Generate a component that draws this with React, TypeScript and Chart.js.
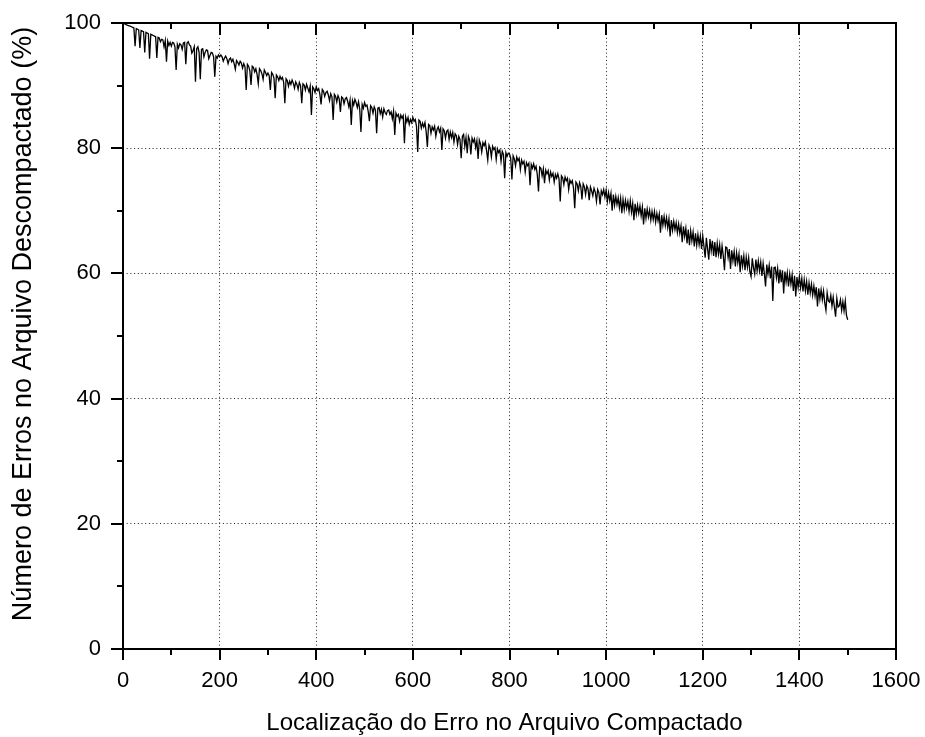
import React, { useEffect, useRef } from "react";
import { Chart, registerables } from "chart.js";

Chart.register(...registerables);

// Step (in file position units) between consecutive samples
const X_STEP = 2.5;

// Percentage of errors in the decompressed file, one value per X_STEP, from 0 to 1500
const errorPct: number[] = [
  100, 99.9, 99.8, 99.7, 99.6, 99.55, 99.5, 99.4, 99.3, 99.2, 96.3, 99.1, 99.0, 98.9, 96.0, 98.8, 98.7, 98.6, 95.3, 98.5,
  98.4, 98.3, 94.3, 98.2, 98.1, 98.0, 97.9, 97.8, 94.4, 97.7, 97.6, 97.0, 97.4, 97.3, 96.2, 97.2, 93.8, 97.1, 96.4, 96.9,
  96.3, 96.9, 96.8, 96.2, 92.5, 96.6, 96.0, 96.7, 96.5, 95.8, 96.8, 96.9, 93.4, 96.8, 97.0, 96.5, 96.3, 95.2, 95.6, 96.2,
  90.6, 95.9, 96.2, 95.3, 91.0, 95.8, 95.9, 94.6, 95.3, 95.7, 95.6, 94.3, 94.8, 95.3, 95.2, 94.6, 91.4, 94.7, 94.4, 94.9,
  94.6, 94.9, 94.6, 93.9, 94.4, 94.7, 94.3, 93.5, 94.2, 94.4, 93.8, 94.2, 93.5, 92.6, 94.0, 93.7, 93.3, 93.9, 93.6, 92.8,
  93.5, 93.0, 89.3, 93.4, 93.1, 92.4, 90.1, 93.1, 92.9, 92.2, 92.7, 91.8, 90.3, 92.7, 92.4, 91.9, 91.0, 92.5, 92.1, 91.6,
  92.0, 91.6, 89.3, 92.1, 91.8, 91.2, 88.0, 91.7, 91.4, 90.8, 91.5, 91.0, 91.3, 90.5, 87.2, 91.1, 90.8, 89.9, 90.7, 90.2,
  90.9, 90.4, 89.6, 90.6, 90.2, 89.4, 90.5, 90.0, 87.2, 90.3, 90.1, 89.3, 90.2, 89.6, 89.0, 89.9, 85.3, 89.8, 89.5, 88.9,
  89.8, 89.2, 89.5, 88.6, 87.0, 89.4, 89.1, 88.3, 88.9, 89.1, 88.5, 87.6, 88.7, 88.2, 84.5, 88.6, 88.3, 87.4, 88.4, 87.9,
  85.8, 88.2, 88.0, 87.1, 87.9, 88.1, 87.5, 86.6, 87.7, 83.7, 87.6, 86.9, 87.8, 87.3, 86.5, 87.4, 86.2, 82.6, 87.0, 86.4,
  87.3, 86.7, 86.9, 85.9, 84.3, 86.8, 86.5, 85.6, 86.6, 86.1, 82.4, 86.4, 86.5, 85.5, 86.2, 85.0, 86.3, 85.7, 85.4, 86.0,
  86.1, 85.4, 85.8, 84.7, 85.9, 82.1, 85.6, 85.1, 85.4, 84.3, 85.3, 84.8, 85.2, 80.8, 85.0, 84.2, 84.9, 83.8, 84.6, 84.1,
  84.9, 84.3, 84.6, 83.5, 79.4, 84.5, 84.3, 83.2, 84.0, 83.4, 84.1, 82.6, 80.2, 83.8, 83.6, 82.4, 83.4, 82.9, 83.5, 81.9,
  83.0, 83.4, 82.6, 83.2, 79.7, 83.1, 82.8, 81.6, 82.7, 82.9, 81.4, 82.6, 81.7, 82.5, 81.0, 82.3, 82.0, 80.6, 81.9, 81.4,
  78.4, 81.9, 82.2, 80.3, 81.7, 79.2, 81.9, 81.3, 79.0, 81.6, 81.0, 81.5, 80.1, 81.2, 78.3, 81.3, 80.7, 79.4, 80.9, 80.4,
  81.0, 79.6, 78.1, 80.5, 80.0, 78.6, 80.3, 79.8, 80.1, 78.2, 79.9, 79.3, 79.7, 77.9, 79.5, 79.0, 75.2, 79.3, 78.7, 79.2,
  79.1, 78.4, 75.0, 78.8, 78.3, 77.2, 78.6, 78.0, 78.4, 76.6, 78.1, 77.5, 77.9, 76.2, 77.7, 77.2, 77.6, 74.1, 77.4, 76.8,
  77.5, 76.6, 77.1, 75.8, 73.1, 77.0, 76.8, 75.6, 76.7, 74.4, 76.5, 75.9, 76.4, 74.9, 76.2, 75.5, 76.0, 74.6, 75.8, 75.2,
  75.9, 75.1, 71.5, 75.6, 75.3, 74.2, 75.4, 74.8, 75.2, 73.4, 74.9, 74.4, 74.8, 73.6, 70.4, 74.6, 74.3, 73.2, 74.5, 73.9,
  71.8, 74.3, 73.8, 72.6, 74.0, 73.5, 71.7, 73.8, 73.2, 72.4, 73.6, 73.0, 71.5, 73.4, 72.9, 71.0, 73.2, 72.6, 73.4, 72.2,
  73.3, 71.5, 72.9, 71.6, 72.8, 70.0, 72.6, 70.9, 72.3, 71.0, 72.1, 70.5, 72.0, 69.6, 71.8, 70.2, 71.7, 70.4, 71.5, 69.9,
  71.6, 69.8, 71.2, 68.5, 71.1, 69.5, 70.9, 69.6, 70.8, 69.2, 70.6, 67.8, 70.4, 68.8, 70.3, 69.0, 70.1, 68.5, 69.9, 68.6,
  69.9, 68.2, 69.6, 68.4, 69.5, 66.5, 69.3, 67.7, 69.1, 67.6, 68.9, 67.3, 68.7, 65.9, 68.5, 66.9, 68.3, 67.0, 68.1, 66.5,
  67.9, 66.4, 67.6, 65.0, 67.5, 65.9, 67.2, 64.8, 67.0, 64.5, 66.8, 65.2, 66.6, 64.3, 66.4, 64.5, 66.2, 64.6, 66.0, 63.9,
  66.0, 64.3, 62.5, 65.7, 63.9, 62.2, 65.5, 63.6, 65.2, 62.8, 65.0, 62.6, 64.8, 63.1, 64.6, 62.3, 64.4, 62.8, 60.5, 64.2,
  64.1, 62.5, 63.9, 60.7, 63.7, 62.0, 63.5, 61.1, 63.3, 61.7, 63.1, 60.2, 62.9, 61.2, 62.8, 60.5, 62.6, 61.0, 62.5, 60.3,
  59.5, 62.4, 60.9, 59.9, 62.2, 60.4, 62.0, 60.4, 61.8, 59.6, 61.6, 60.0, 57.9, 61.4, 59.9, 61.3, 59.2, 61.1, 55.6, 60.9,
  61.0, 59.3, 60.8, 58.4, 60.6, 58.6, 60.5, 56.8, 60.3, 58.6, 60.1, 57.9, 59.9, 58.3, 59.8, 57.2, 59.6, 56.3, 59.4, 57.8,
  59.5, 57.7, 59.2, 57.1, 59.0, 57.2, 58.7, 56.6, 58.5, 56.9, 58.3, 56.5, 58.0, 56.4, 57.8, 54.7, 57.6, 55.9, 57.4, 55.8,
  57.2, 55.3, 54.1, 56.9, 55.6, 55.4, 56.5, 54.8, 56.2, 54.6, 53.1, 56.0, 54.6, 54.8, 55.8, 54.1, 55.5, 54.0, 55.6, 53.3,
  52.6,
];

const xMajorTicks = [0, 200, 400, 600, 800, 1000, 1200, 1400, 1600];
const xMinorTicks = [100, 300, 500, 700, 900, 1100, 1300, 1500];
const yMajorTicks = [0, 20, 40, 60, 80, 100];
const yMinorTicks = [10, 30, 50, 70, 90];

const xTitle = "Localização do Erro no Arquivo Compactado";
const yTitle = "Número de Erros no Arquivo Descompactado (%)";

const FONT = "'Liberation Sans', Arial, Helvetica, sans-serif";

const framePlugin = {
  id: "originFrame",
  afterDraw(chart: any) {
    const { ctx, chartArea, scales } = chart;
    const { left, right, top, bottom } = chartArea;
    const xs = scales.x;
    const ys = scales.y;
    ctx.save();
    ctx.strokeStyle = "#000";
    ctx.lineWidth = 2;
    ctx.setLineDash([]);
    const seg = (x1: number, y1: number, x2: number, y2: number) => {
      ctx.beginPath();
      ctx.moveTo(x1, y1);
      ctx.lineTo(x2, y2);
      ctx.stroke();
    };
    // frame
    ctx.strokeRect(left, top, right - left, bottom - top);
    // x ticks: bottom outward, top inward
    xMajorTicks.forEach((v) => {
      const p = Math.round(xs.getPixelForValue(v));
      seg(p, bottom, p, bottom + 11);
      if (v > 0 && v < 1600) seg(p, top, p, top + 12);
    });
    xMinorTicks.forEach((v) => {
      const p = Math.round(xs.getPixelForValue(v));
      seg(p, bottom, p, bottom + 6);
      seg(p, top, p, top + 6);
    });
    // y ticks: left outward
    yMajorTicks.forEach((v) => {
      const p = Math.round(ys.getPixelForValue(v));
      seg(left - 12, p, left, p);
    });
    yMinorTicks.forEach((v) => {
      const p = Math.round(ys.getPixelForValue(v));
      seg(left - 6, p, left, p);
    });
    // titles
    ctx.fillStyle = "#000";
    ctx.textAlign = "center";
    ctx.textBaseline = "alphabetic";
    ctx.font = `24px ${FONT}`;
    ctx.fillText(xTitle, (left + right) / 2 - 5, 730);
    ctx.save();
    ctx.translate(31, 324);
    ctx.rotate(-Math.PI / 2);
    ctx.font = `27px ${FONT}`;
    ctx.fillText(yTitle, 0, 0);
    ctx.restore();
    ctx.restore();
  },
};

export default function App() {
  const canvasRef = useRef<HTMLCanvasElement | null>(null);

  useEffect(() => {
    document.body.style.margin = "0";
    const canvas = canvasRef.current;
    if (!canvas) return;
    const points = errorPct.map((y, i) => ({ x: i * X_STEP, y }));
    const chart = new Chart(canvas, {
      type: "line",
      data: {
        datasets: [
          {
            data: points,
            borderColor: "#000",
            borderWidth: 1.3,
            pointRadius: 0,
            tension: 0,
            fill: false,
          },
        ],
      },
      options: {
        animation: false,
        responsive: false,
        devicePixelRatio: 1,
        layout: { padding: { left: 0, right: 29, top: 23, bottom: 0 } },
        plugins: { legend: { display: false }, tooltip: { enabled: false } },
        scales: {
          x: {
            type: "linear",
            min: 0,
            max: 1600,
            afterFit: (s: any) => {
              s.height = 88;
            },
            afterBuildTicks: (s: any) => {
              s.ticks = xMajorTicks.map((v) => ({ value: v }));
            },
            ticks: {
              font: { family: FONT, size: 22 },
              color: "#000",
              padding: 0,
              maxRotation: 0,
              autoSkip: false,
              callback: (v: any) => String(v),
            },
            grid: {
              drawTicks: true,
              tickLength: 19,
              tickColor: "rgba(0,0,0,0)",
              color: (c: any) =>
                c.tick && (c.tick.value === 0 || c.tick.value === 1600) ? "rgba(0,0,0,0)" : "#222",
              lineWidth: 1,
            },
            border: { display: false, dash: [1, 2.7] },
          },
          y: {
            type: "linear",
            min: 0,
            max: 100,
            afterFit: (s: any) => {
              s.width = 123;
            },
            afterBuildTicks: (s: any) => {
              s.ticks = yMajorTicks.map((v) => ({ value: v }));
            },
            ticks: {
              font: { family: FONT, size: 22 },
              color: "#000",
              padding: 0,
              autoSkip: false,
              callback: (v: any) => String(v),
            },
            grid: {
              drawTicks: true,
              tickLength: 22,
              tickColor: "rgba(0,0,0,0)",
              color: (c: any) =>
                c.tick && (c.tick.value === 0 || c.tick.value === 100) ? "rgba(0,0,0,0)" : "#222",
              lineWidth: 1,
            },
            border: { display: false, dash: [1, 2.7] },
          },
        },
      },
      plugins: [framePlugin],
    });
    return () => chart.destroy();
  }, []);

  return (
    <div style={{ width: 925, height: 737, background: "#fff" }}>
      <canvas ref={canvasRef} width={925} height={737} />
    </div>
  );
}
